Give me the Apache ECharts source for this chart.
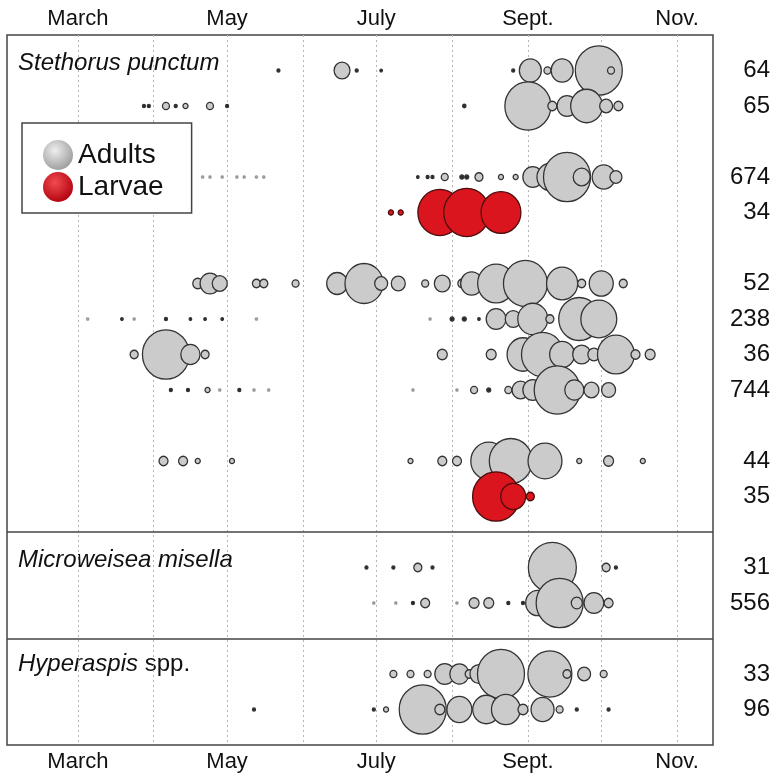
<!DOCTYPE html>
<html>
<head>
<meta charset="utf-8">
<script src="https://cdn.jsdelivr.net/npm/echarts@6/dist/echarts.min.js"></script>
<style>
  html, body { margin: 0; background: #fff; }
  #chart { width: 774px; height: 783px; }
</style>
</head>
<body>
<div id="chart"></div>
<script>
// Day of year for the first of each month, March..Nov.
const monthStarts = [60, 91, 121, 152, 182, 213, 244, 274, 305];
const tickDays = [60, 121, 182, 244, 305];
const tickNames = ['March', 'May', 'July', 'Sept.', 'Nov.'];

// One row per site/year; label = total count shown on the right.
const rowLabels = ['64', '65', '674', '34', '52', '238', '36', '744', '44', '35', '31', '556', '33', '96'];
const rowStage = ['A', 'A', 'A', 'L', 'A', 'A', 'A', 'A', 'A', 'L', 'A', 'A', 'A', 'A'];
const rowSlot = [1, 2, 4, 5, 7, 8, 9, 10, 12, 13, 15, 16, 18, 19];
const panelBreaks = [14, 17];

// Sampling dates (day of year) and relative abundance (% of row max) per row.
const rowDays = [
  [142, 168, 174, 184, 238, 245, 252, 258, 273, 278],
  [87, 89, 96, 100, 104, 114, 121, 218, 244, 254, 260, 268, 276, 281],
  [111, 114, 119, 125, 128, 133, 136, 199, 203, 205, 210, 217, 219, 224, 233, 239, 246, 253, 260, 266, 275, 280],
  [188, 192, 208, 219, 233],
  [109, 114, 118, 133, 136, 149, 166, 177, 184, 191, 202, 209, 217, 221, 231, 243, 258, 266, 274, 283],
  [64, 78, 83, 96, 106, 112, 119, 133, 204, 213, 218, 224, 231, 238, 246, 253, 265, 273],
  [83, 96, 106, 112, 209, 229, 238, 242, 250, 258, 266, 271, 280, 288, 294],
  [98, 105, 113, 118, 126, 132, 138, 197, 215, 222, 228, 236, 241, 246, 256, 263, 270, 277],
  [95, 103, 109, 123, 196, 209, 215, 228, 237, 251, 265, 277, 291],
  [231, 238, 245],
  [178, 189, 199, 205, 254, 276, 280],
  [181, 190, 197, 202, 215, 222, 228, 236, 242, 248, 257, 264, 271, 277],
  [189, 196, 203, 210, 216, 220, 224, 233, 253, 260, 267, 275],
  [132, 181, 186, 201, 208, 216, 227, 235, 242, 250, 257, 264, 277]
];
const rowAbund = [
  [0.4, 11, 0.4, 0.2, 0.4, 21, 2.1, 21, 96, 2.1],
  [0.4, 0.4, 2.1, 0.4, 1.1, 2.1, 0.4, 0.5, 92, 3.5, 17, 44, 7.3, 3.5],
  [0.1, 0.1, 0.1, 0.1, 0.1, 0.1, 0.1, 0.2, 0.4, 0.4, 2.1, 0.7, 0.7, 2.8, 1.1, 1.1, 17, 29, 96, 12.5, 23, 6.3],
  [1.1, 1.1, 84, 92, 69],
  [4.3, 17, 9.8, 2.8, 2.8, 2.1, 19, 63, 7.3, 8.5, 2.1, 11, 2.8, 21, 59, 84, 42, 2.8, 25, 2.8],
  [0.1, 0.2, 0.1, 0.4, 0.2, 0.2, 0.2, 0.1, 0.1, 0.7, 0.7, 0.2, 17, 11, 39, 2.8, 73, 56],
  [2.8, 96, 16, 2.8, 4.3, 4.3, 4.3, 44, 77, 27, 14, 6.3, 59, 3.5, 4.3],
  [0.4, 0.4, 1.1, 0.1, 0.4, 0.1, 0.1, 0.1, 0.1, 2.1, 0.7, 2.1, 12.5, 17, 92, 16, 9.8, 8.5],
  [3.5, 3.5, 1.1, 1.1, 1.1, 3.5, 3.5, 56, 80, 50, 1.1, 4.3, 1.1],
  [96, 27, 2.8],
  [0.4, 0.4, 2.8, 0.4, 100, 2.8, 0.4],
  [0.1, 0.1, 0.4, 3.5, 0.1, 4.3, 4.3, 0.4, 0.4, 25, 96, 5.3, 17, 3.5],
  [2.1, 2.1, 2.1, 17, 16, 2.8, 14, 96, 84, 2.8, 7.3, 2.1],
  [0.4, 0.4, 1.1, 96, 4.3, 27, 32, 36, 4.3, 23, 2.1, 0.4, 0.4]
];

const FONT = '"Liberation Sans", Arial, sans-serif';
const INK = '#111';

function rowPoints(i) {
  return rowDays[i].map((d, j) => {
    const v = rowAbund[i][j];
    const item = { value: [d, rowSlot[i], v] };
    // barely-there catches show as faint specks
    if (v <= 0.1) item.itemStyle = { opacity: 0.35 };
    return item;
  });
}

const adults = [];
const larvae = [];
rowLabels.forEach((_, i) => {
  (rowStage[i] === 'L' ? larvae : adults).push(...rowPoints(i));
});

const bubbleSize = (val) => {
  const d = Math.max(2.5, 48 * Math.sqrt(val[2] / 100));
  return [d, d * 1.05];
};

// Tiny catches end up as solid specks, like the border swallowing the fill.
const fillFor = (base) => (p) => (p.value[2] < 0.8 ? '#2a2a2a' : base);

const chart = echarts.init(document.getElementById('chart'), null, { renderer: 'canvas' });

const monthAxis = (pos, margin) => ({
  type: 'value',
  position: pos,
  min: 31,
  max: 319.7,
  axisLine: { show: false },
  axisTick: { show: false },
  splitLine: { show: false },
  axisLabel: {
    customValues: tickDays,
    formatter: (v) => tickNames[tickDays.indexOf(v)] || '',
    fontSize: 22,
    fontFamily: FONT,
    color: INK,
    margin: margin
  }
});

const grayGrad = new echarts.graphic.RadialGradient(0.4, 0.35, 0.7, [
  { offset: 0, color: '#eeeeee' },
  { offset: 1, color: '#9a9a9a' }
]);
const redGrad = new echarts.graphic.RadialGradient(0.4, 0.35, 0.7, [
  { offset: 0, color: '#f24a4f' },
  { offset: 1, color: '#b0000e' }
]);

chart.setOption({
  animation: false,
  grid: {
    left: 7,
    right: 61,
    top: 35,
    bottom: 38,
    show: true,
    borderColor: '#444',
    borderWidth: 1.5,
    backgroundColor: 'transparent'
  },
  xAxis: [monthAxis('bottom', 6), monthAxis('top', 5)],
  yAxis: {
    type: 'value',
    position: 'right',
    min: 0,
    max: 20,
    inverse: true,
    axisLine: { show: false },
    axisTick: { show: false },
    splitLine: { show: false },
    axisLabel: {
      customValues: rowSlot,
      formatter: (v) => rowLabels[rowSlot.indexOf(v)] || '',
      align: 'right',
      margin: 57,
      fontSize: 24,
      fontFamily: FONT,
      color: INK,
      padding: [5, 0, 0, 0]
    }
  },
  legend: {
    left: 22,
    top: 123,
    orient: 'vertical',
    icon: 'circle',
    itemWidth: 30,
    itemHeight: 30,
    itemGap: 2,
    padding: [17, 28, 11, 21],
    borderColor: '#444',
    borderWidth: 1.5,
    backgroundColor: '#fff',
    selectedMode: false,
    textStyle: { fontSize: 28, fontFamily: FONT, color: INK },
    data: [
      { name: 'Adults', itemStyle: { color: grayGrad, borderWidth: 0 } },
      { name: 'Larvae', itemStyle: { color: redGrad, borderWidth: 0 } }
    ]
  },
  graphic: [
    {
      type: 'text', x: 18, y: 63,
      style: { text: 'Stethorus punctum', fontSize: 24, fontFamily: FONT, fontStyle: 'italic', fill: INK, verticalAlign: 'middle' }
    },
    {
      type: 'text', x: 18, y: 560,
      style: { text: 'Microweisea misella', fontSize: 24, fontFamily: FONT, fontStyle: 'italic', fill: INK, verticalAlign: 'middle' }
    },
    {
      type: 'text', x: 18, y: 664,
      style: {
        text: '{i|Hyperaspis} spp.',
        fontSize: 24, fontFamily: FONT, fill: INK, verticalAlign: 'middle',
        rich: { i: { fontStyle: 'italic', fontSize: 24, fontFamily: FONT } }
      }
    }
  ],
  series: [
    {
      name: 'Adults',
      type: 'scatter',
      z: 2,
      data: adults,
      symbolSize: bubbleSize,
      itemStyle: { color: fillFor('#cbcbcb'), borderColor: '#333', borderWidth: 1.3, opacity: 1 },
      emphasis: { disabled: true },
      markLine: {
        silent: true,
        z: 1,
        symbol: 'none',
        label: { show: false },
        animation: false,
        data: [
          ...monthStarts.map((d) => ({ xAxis: d, lineStyle: { color: '#b5b5b5', type: [2, 3], width: 1 } })),
          ...panelBreaks.map((s) => ({ yAxis: s, lineStyle: { color: '#444', type: 'solid', width: 1.5 } }))
        ]
      }
    },
    {
      name: 'Larvae',
      type: 'scatter',
      z: 3,
      data: larvae,
      symbolSize: bubbleSize,
      itemStyle: { color: fillFor('#da151d'), borderColor: '#4a0c0c', borderWidth: 1.3, opacity: 1 },
      emphasis: { disabled: true }
    }
  ]
});
</script>
</body>
</html>
